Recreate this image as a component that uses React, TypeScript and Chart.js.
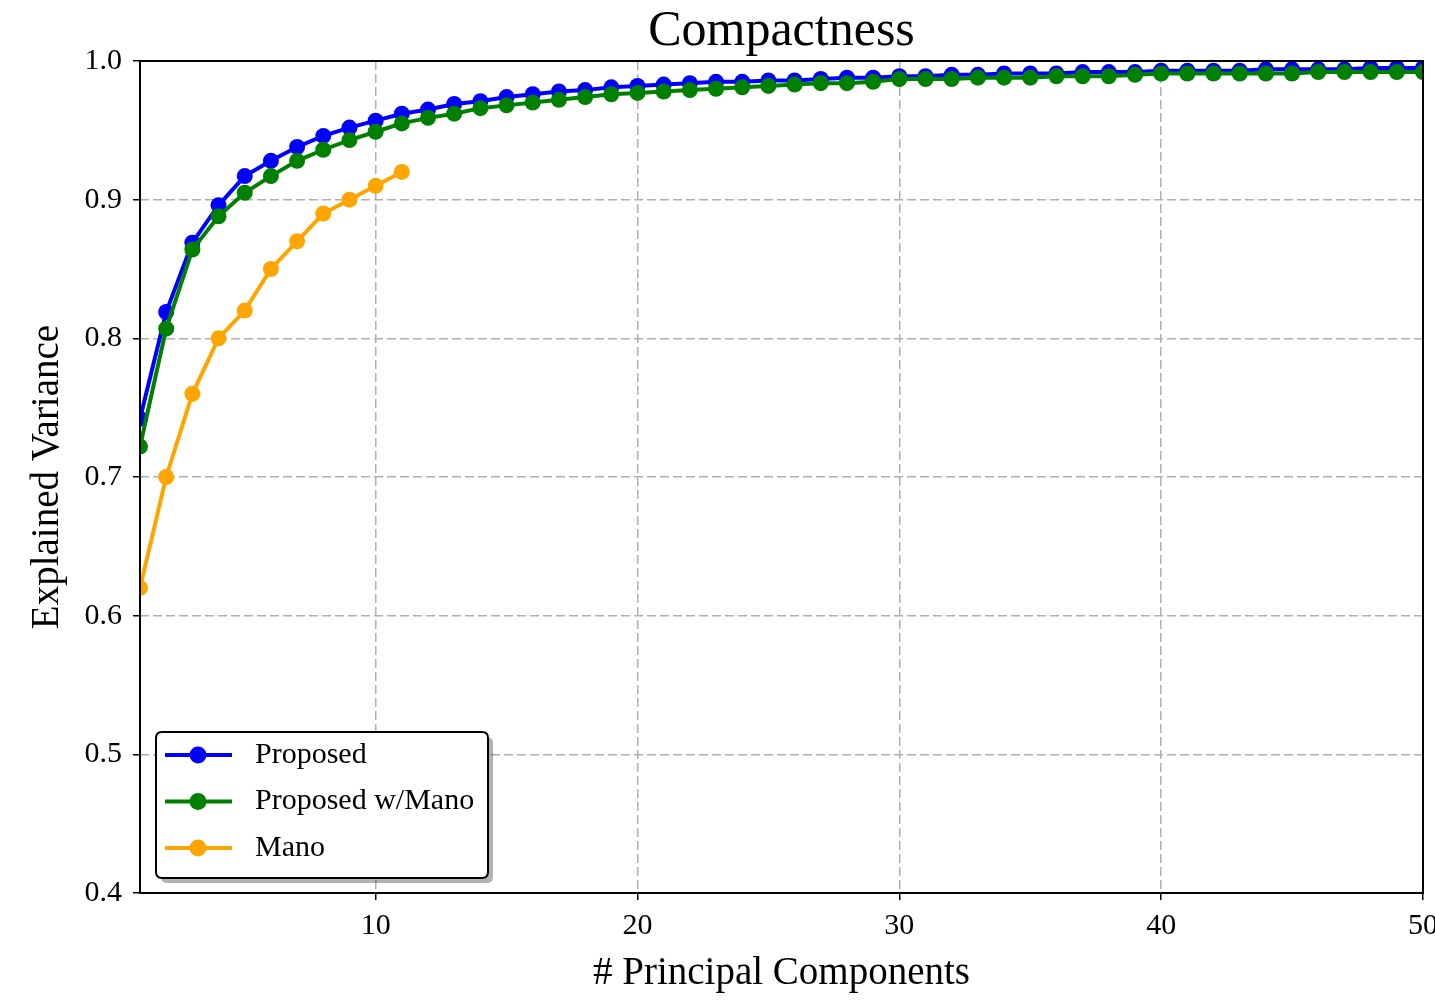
import React, { useEffect, useRef } from "react";
import { Chart, registerables } from "chart.js";

Chart.register(...registerables);

const components = [
  1, 2, 3, 4, 5, 6, 7, 8, 9, 10, 11, 12, 13, 14, 15, 16, 17, 18, 19, 20, 21, 22, 23, 24, 25,
  26, 27, 28, 29, 30, 31, 32, 33, 34, 35, 36, 37, 38, 39, 40, 41, 42, 43, 44, 45, 46, 47, 48, 49, 50,
];

const proposed = [
  0.742, 0.819, 0.869, 0.896, 0.917, 0.928, 0.938, 0.946, 0.952, 0.957,
  0.962, 0.965, 0.969, 0.971, 0.974, 0.976, 0.978, 0.979, 0.981, 0.982,
  0.983, 0.984, 0.985, 0.985, 0.986, 0.986, 0.987, 0.988, 0.988, 0.989,
  0.989, 0.990, 0.990, 0.991, 0.991, 0.991, 0.992, 0.992, 0.992, 0.993,
  0.993, 0.993, 0.993, 0.994, 0.994, 0.994, 0.994, 0.995, 0.995, 0.995,
];

const proposedMano = [
  0.722, 0.807, 0.864, 0.888, 0.905, 0.917, 0.928, 0.936, 0.943, 0.949,
  0.955, 0.959, 0.962, 0.966, 0.968, 0.970, 0.972, 0.974, 0.976, 0.977,
  0.978, 0.979, 0.980, 0.981, 0.982, 0.983, 0.984, 0.984, 0.985, 0.987,
  0.987, 0.987, 0.988, 0.988, 0.988, 0.989, 0.989, 0.989, 0.990, 0.991,
  0.991, 0.991, 0.991, 0.991, 0.991, 0.992, 0.992, 0.992, 0.992, 0.992,
];

const manoComponents = [1, 2, 3, 4, 5, 6, 7, 8, 9, 10, 11];
const mano = [0.62, 0.70, 0.76, 0.80, 0.82, 0.85, 0.87, 0.89, 0.90, 0.91, 0.92];

const xTicks = [10, 20, 30, 40, 50];
const yTicks = [0.4, 0.5, 0.6, 0.7, 0.8, 0.9, 1.0];

const seriesLabels = ["Proposed", "Proposed w/Mano", "Mano"];
const seriesColors = ["#0000ff", "#008000", "#ffa500"];

const FONT = "'Liberation Serif', 'Times New Roman', serif";

const framePlugin = {
  id: "frame",
  afterDatasetsDraw(chart: any) {
    const { ctx, chartArea } = chart;
    ctx.save();
    ctx.strokeStyle = "#000";
    ctx.lineWidth = 2;
    ctx.setLineDash([]);
    ctx.strokeRect(chartArea.left, chartArea.top, chartArea.right - chartArea.left, chartArea.bottom - chartArea.top);
    ctx.restore();
  },
};

function roundRect(ctx: CanvasRenderingContext2D, x: number, y: number, w: number, h: number, r: number) {
  ctx.beginPath();
  ctx.moveTo(x + r, y);
  ctx.lineTo(x + w - r, y);
  ctx.quadraticCurveTo(x + w, y, x + w, y + r);
  ctx.lineTo(x + w, y + h - r);
  ctx.quadraticCurveTo(x + w, y + h, x + w - r, y + h);
  ctx.lineTo(x + r, y + h);
  ctx.quadraticCurveTo(x, y + h, x, y + h - r);
  ctx.lineTo(x, y + r);
  ctx.quadraticCurveTo(x, y, x + r, y);
  ctx.closePath();
}

const legendPlugin = {
  id: "customLegend",
  afterDraw(chart: any) {
    const { ctx, chartArea } = chart;
    const datasets = chart.data.datasets;
    const w = 332;
    const h = 146;
    const left = chartArea.left + 16;
    const top = chartArea.bottom - 15 - h;
    ctx.save();
    ctx.fillStyle = "rgba(0,0,0,0.3)";
    roundRect(ctx, left + 5, top + 5, w, h, 6);
    ctx.fill();
    ctx.fillStyle = "#fff";
    roundRect(ctx, left, top, w, h, 6);
    ctx.fill();
    ctx.strokeStyle = "#000";
    ctx.lineWidth = 2;
    ctx.stroke();
    datasets.forEach((ds: any, i: number) => {
      const y = top + 23 + i * 46.5;
      ctx.strokeStyle = ds.borderColor;
      ctx.lineWidth = 4;
      ctx.beginPath();
      ctx.moveTo(left + 9, y);
      ctx.lineTo(left + 76, y);
      ctx.stroke();
      ctx.fillStyle = ds.borderColor;
      ctx.beginPath();
      ctx.arc(left + 42, y, 8.5, 0, Math.PI * 2);
      ctx.fill();
      ctx.fillStyle = "#000";
      ctx.font = `30px ${FONT}`;
      ctx.textBaseline = "middle";
      ctx.textAlign = "left";
      ctx.fillText(ds.label, left + 99, y);
    });
    ctx.restore();
  },
};

export default function App() {
  const canvasRef = useRef<HTMLCanvasElement | null>(null);

  useEffect(() => {
    if (!canvasRef.current) return;
    const mk = (xs: number[], ys: number[]) => xs.map((x, i) => ({ x, y: ys[i] }));
    const seriesData = [mk(components, proposed), mk(components, proposedMano), mk(manoComponents, mano)];
    const orders = [3, 2, 1];

    const chart = new Chart(canvasRef.current, {
      type: "line",
      data: {
        datasets: seriesLabels.map((label, i) => ({
          label,
          data: seriesData[i],
          borderColor: seriesColors[i],
          backgroundColor: seriesColors[i],
          pointBackgroundColor: seriesColors[i],
          borderWidth: 4,
          pointRadius: 8,
          pointHoverRadius: 8,
          pointBorderWidth: 0,
          tension: 0,
          fill: false,
          clip: 0,
          order: orders[i],
        })),
      },
      options: {
        animation: false,
        responsive: false,
        devicePixelRatio: 1,
        events: [],
        layout: { padding: { left: 0, right: 12, top: 0, bottom: 0 } },
        plugins: {
          legend: { display: false },
          tooltip: { enabled: false },
          title: {
            display: true,
            text: "Compactness",
            fullSize: false,
            color: "#000",
            font: { family: FONT, size: 50, weight: "normal", lineHeight: 1 },
            padding: { top: 7, bottom: 4 },
          },
        },
        scales: {
          x: {
            type: "linear",
            min: 1,
            max: 50,
            afterBuildTicks: (s: any) => {
              s.ticks = xTicks.map((v) => ({ value: v }));
            },
            afterFit: (s: any) => {
              s.height = 107;
              s.paddingLeft = 0;
              s.paddingRight = 0;
            },
            ticks: {
              color: "#000",
              font: { family: FONT, size: 30 },
              padding: 8,
              maxRotation: 0,
              autoSkip: false,
              callback: (v: any) => String(v),
            },
            grid: {
              color: "#b0b0b0",
              lineWidth: 1.5,
              tickColor: "#000",
              tickLength: 7,
              tickWidth: 1.5,
              tickBorderDash: [],
            },
            border: { display: false, dash: [9, 4] },
            title: {
              display: true,
              text: "# Principal Components",
              color: "#000",
              font: { family: FONT, size: 39 },
              padding: { top: 0, bottom: 3 },
            },
          },
          y: {
            type: "linear",
            min: 0.4,
            max: 1.0,
            afterBuildTicks: (s: any) => {
              s.ticks = yTicks.map((v) => ({ value: v }));
            },
            afterFit: (s: any) => {
              s.width = 140;
              s.paddingTop = 0;
              s.paddingBottom = 0;
            },
            ticks: {
              color: "#000",
              font: { family: FONT, size: 30 },
              padding: 11,
              autoSkip: false,
              callback: (v: any) => Number(v).toFixed(1),
            },
            grid: {
              color: "#b0b0b0",
              lineWidth: 1.5,
              tickColor: "#000",
              tickLength: 7,
              tickWidth: 1.5,
              tickBorderDash: [],
            },
            border: { display: false, dash: [9, 4] },
            title: {
              display: true,
              text: "Explained Variance",
              color: "#000",
              font: { family: FONT, size: 39 },
              padding: { top: 24, bottom: 0 },
            },
          },
        },
      },
      plugins: [framePlugin, legendPlugin],
    } as any);

    return () => chart.destroy();
  }, []);

  return (
    <div style={{ position: "fixed", left: 0, top: 0, width: 1435, height: 1000, background: "#fff" }}>
      <canvas ref={canvasRef} width={1435} height={1000} style={{ width: 1435, height: 1000, display: "block" }} />
    </div>
  );
}
